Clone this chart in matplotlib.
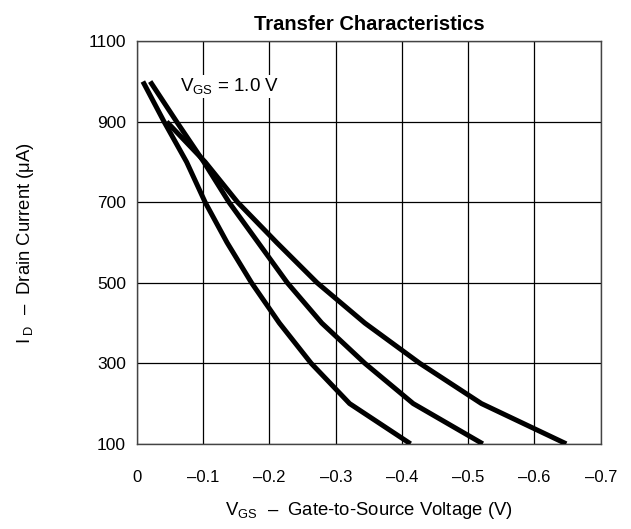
import matplotlib
matplotlib.use('Agg')
import matplotlib.pyplot as plt

plt.rcParams['font.family'] = ['Liberation Sans', 'DejaVu Sans']
plt.rcParams['mathtext.fontset'] = 'custom'
plt.rcParams['mathtext.rm'] = 'Liberation Sans'
plt.rcParams['mathtext.it'] = 'Liberation Sans'

# drain current (uA) vs gate-to-source voltage (V), three curves
id_a = [1000, 900, 800, 700, 600, 500, 400, 300, 200, 100]
vgs_a = [-0.009, -0.041, -0.075, -0.103, -0.136, -0.173, -0.215, -0.263, -0.321, -0.413]

id_b = [1000, 900, 800, 700, 600, 500, 400, 300, 200, 100]
vgs_b = [-0.020, -0.060, -0.101, -0.139, -0.183, -0.227, -0.279, -0.344, -0.417, -0.522]

id_c = [900, 800, 700, 600, 500, 400, 300, 200, 100]
vgs_c = [-0.045, -0.103, -0.152, -0.211, -0.272, -0.344, -0.427, -0.520, -0.648]

xticks = [0, -0.1, -0.2, -0.3, -0.4, -0.5, -0.6, -0.7]
xlabels = ['0', '–0.1', '–0.2', '–0.3', '–0.4', '–0.5', '–0.6', '–0.7']
yticks = [100, 300, 500, 700, 900, 1100]

fig = plt.figure(figsize=(6.31, 5.29), dpi=100)
ax = fig.add_axes([0.217, 0.161, 0.735, 0.761])

for v, i in [(vgs_a, id_a), (vgs_b, id_b), (vgs_c, id_c)]:
    ax.plot(v, i, color='black', lw=3.6, solid_capstyle='butt', zorder=3)

ax.set_xlim(0, -0.7)
ax.set_ylim(100, 1100)
ax.set_xticks(xticks)
ax.set_xticklabels(xlabels)
ax.set_yticks(yticks)
ax.grid(True, color='black', lw=0.9)
ax.tick_params(length=0)
ax.tick_params(axis='x', pad=19, labelsize=12)
ax.tick_params(axis='y', pad=8, labelsize=12.5)
for s in ax.spines.values():
    s.set_color('#444444')
    s.set_linewidth(1.0)

ax.text(-0.065, 988, r'V$_{\rm GS}$ = 1.0 V', fontsize=13.5, va='center', ha='left',
        bbox=dict(facecolor='white', edgecolor='none', pad=1), zorder=4)

ax.set_title('Transfer Characteristics', fontsize=14.5, fontweight='bold', pad=8)
ax.set_xlabel(r'V$_{\rm GS}$  –  Gate-to-Source Voltage (V)', fontsize=13.3, labelpad=10.5)
ax.set_ylabel(r'I$_{\rm\ D}$  –  Drain Current (μA)', fontsize=13.3, labelpad=38)

fig.savefig('out.png', dpi=100)
